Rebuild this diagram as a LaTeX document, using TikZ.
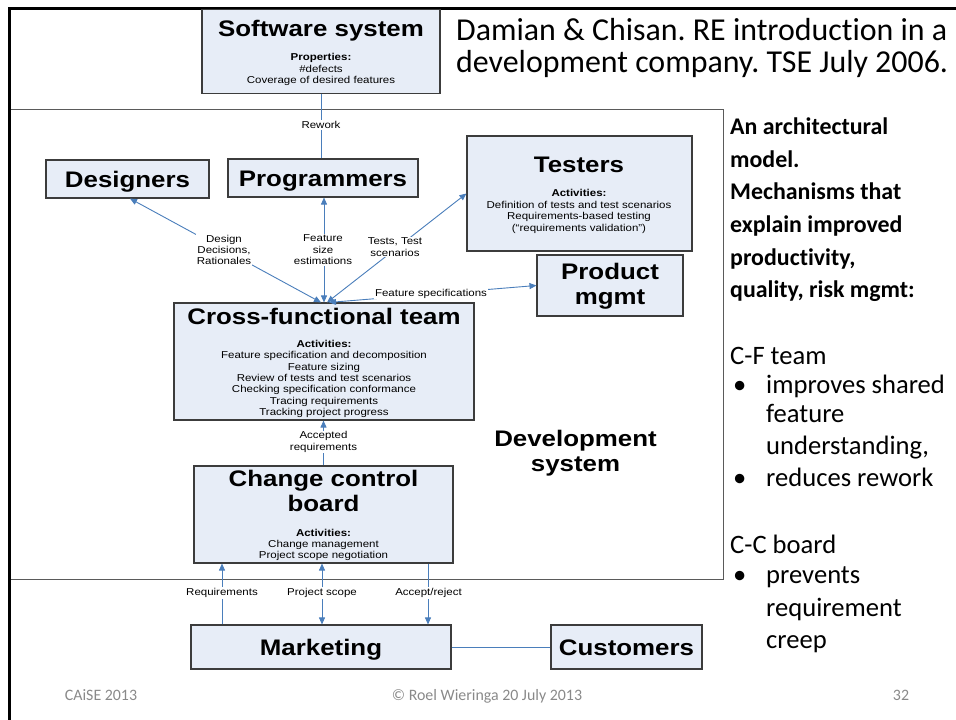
\documentclass[tikz,border=0pt]{standalone}
\usepackage{fontspec}
\setmainfont{Liberation Sans}
\newfontfamily\boxfont[FakeStretch=1.15]{Liberation Sans}
\newfontfamily\calfont[Ligatures=NoCommon]{Carlito}
\usetikzlibrary{arrows.meta,calc}
\definecolor{boxfill}{RGB}{231,237,247}
\definecolor{boxline}{RGB}{60,60,60}
\definecolor{linkblue}{RGB}{74,126,187}
\definecolor{footgray}{RGB}{137,137,137}
\definecolor{devline}{RGB}{90,90,90}
\frenchspacing
\begin{document}
\frenchspacing
\begin{tikzpicture}[x=1pt,y=-1pt,
  box/.style={draw=boxline,fill=boxfill,line width=1.1pt,inner sep=0pt},
  ttl/.style={font=\boxfont\bfseries\fontsize{22.5}{25}\selectfont,inner sep=0pt,align=center},
  ttlone/.style={ttl,text height=16.1pt,text depth=0pt},
  sml/.style={font=\boxfont\fontsize{10}{11.4}\selectfont,inner sep=0pt,align=center},
  lbl/.style={font=\boxfont\fontsize{10}{11.4}\selectfont,inner sep=1pt,align=center,fill=white},
  link/.style={draw=linkblue,line width=0.9pt},
  hd/.style={-{Triangle[length=7pt,width=6pt]}},
  hdd/.style={{Triangle[length=7pt,width=6pt]}-{Triangle[length=7pt,width=6pt]}},
  side/.style={font=\calfont\fontsize{23.9}{29}\selectfont\bfseries,anchor=west,inner sep=0pt,text height=15.3pt,text depth=0pt},
  sider/.style={font=\calfont\fontsize{26.6}{32}\selectfont,anchor=west,inner sep=0pt,text height=17pt,text depth=0pt},
  reftxt/.style={font=\calfont\fontsize{31.9}{38}\selectfont,anchor=west,inner sep=0pt,text height=20.4pt,text depth=0pt},
  foot/.style={font=\calfont\fontsize{15.9}{19}\selectfont,text=footgray,inner sep=0pt,text height=10.2pt,text depth=0pt}
]
\useasboundingbox (0,0) rectangle (956,720);

% development system frame and slide border
\draw[devline,line width=1pt] (9,109) -- (723,109) -- (723,579) -- (9,579);
\draw[black,line width=3pt] (9,720) -- (9,8) -- (956,8);

% boxes
\node[box,minimum width=238pt,minimum height=84pt] (sw) at (321,51.5) {};
\node[box,minimum width=163pt,minimum height=38pt] (des) at (127.5,179) {};
\node[box,minimum width=190pt,minimum height=38pt] (prog) at (323,178) {};
\node[box,minimum width=225pt,minimum height=115pt] (test) at (579.5,193.5) {};
\node[box,minimum width=146pt,minimum height=61pt] (pm) at (610,285.5) {};
\node[box,minimum width=300pt,minimum height=117pt] (cf) at (324,361.5) {};
\node[box,minimum width=259pt,minimum height=97pt] (ccb) at (323.5,514.5) {};
\node[box,minimum width=260pt,minimum height=44pt] (mkt) at (321,647) {};
\node[box,minimum width=151pt,minimum height=44pt] (cust) at (626.5,647) {};

% titles
\node[ttlone] (swT) at (321,28) {Software system};
\node[ttlone] (desT) at (127.5,179) {Designers};
\node[ttlone] (progT) at (323,178) {Programmers};
\node[ttlone] (testT) at (579,164) {Testers};
\node[ttl] (pmT) at (610,286) {Product\\mgmt};
\node[ttlone] (cfT) at (324,316) {Cross-functional team};
\node[ttl] (ccbT) at (323.5,490.5) {Change control\\board};
\node[ttlone] (mktT) at (321,647) {Marketing};
\node[ttlone] (custT) at (626.5,647) {Customers};
\node[ttl] (devT) at (575.5,453) {Development\\system};

% box contents
\node[sml] (swP) at (321,69.5) {\textbf{Properties:}\\\#defects\\Coverage of desired features};
\node[sml] (testA) at (579,211.5) {\textbf{Activities:}\\Definition of tests and test scenarios\\Requirements-based testing\\(“requirements validation”)};
\node[sml] (cfA) at (324,379) {\textbf{Activities:}\\Feature specification and decomposition\\Feature sizing\\Review of tests and test scenarios\\Checking specification conformance\\Tracing requirements\\Tracking project progress};
\node[sml] (ccbA) at (323.5,545) {\textbf{Activities:}\\Change management\\Project scope negotiation};

% connectors
\draw[link] (sw.south) -- (sw.south |- prog.north);
\draw[link,hdd] ([xshift=-3pt]cf.north) -- ([xshift=2.5pt]des.south);
\draw[link,hdd] (cf.north) -- (cf.north |- prog.south);
\draw[link,hdd] ([xshift=3pt]cf.north) -- (test.west);
\draw[link,hdd] ([xshift=5pt]cf.north) -- (pm.west);
\draw[link,hd] (ccb.north) -- (ccb.north |- cf.south);
\draw[link,hd] ($(mkt.north)+(-99,0)$) -- ($(ccb.south)+(-101.5,0)$);
\draw[link,hdd] ($(mkt.north)+(1,0)$) -- ($(ccb.south)+(-1.5,0)$);
\draw[link,hd] ($(ccb.south)+(104.5,0)$) -- ($(mkt.north)+(107,0)$);
\draw[link] (mkt.east) -- (cust.west);

% connector labels
\node[lbl] (lRework) at (321,125) {Rework};
\node[lbl] (lDesign) at (224,250) {Design\\Decisions,\\Rationales};
\node[lbl] (lSize) at (323,250) {Feature\\size\\estimations};
\node[lbl] (lTests) at (395,247) {Tests, Test\\scenarios};
\node[lbl] (lSpec) at (431,293.5) {Feature specifications};
\node[lbl] (lAcc) at (323.5,442) {Accepted\\requirements};
\node[lbl] (lReq) at (222,593) {Requirements};
\node[lbl] (lScope) at (322,593) {Project scope};
\node[lbl] (lAR) at (428.5,593) {Accept/reject};

% reference text
\node[reftxt] (ref1) at (456,30) {Damian \& Chisan. RE introduction in a};
\node[reftxt] (ref2) at (456,62) {development company. TSE July 2006.};

% right column
\node[side] (b1) at (730,127) {An architectural};
\node[side] (b2) at (730,159.6) {model.};
\node[side] (b3) at (730,192.2) {Mechanisms that};
\node[side] (b4) at (730,224.8) {explain improved};
\node[side] (b5) at (730,257.4) {productivity,};
\node[side] (b6) at (730,290) {quality, risk mgmt:};

\node[sider] (c1) at (730,356) {C-F team};
\node[sider] (u1) at (733,385) {•};
\node[sider] (c2) at (766,385) {improves shared};
\node[sider] (c3) at (766,414) {feature};
\node[sider] (c4) at (766,446) {understanding,};
\node[sider] (u2) at (733,478) {•};
\node[sider] (c5) at (766,478) {reduces rework};
\node[sider] (c6) at (730,545) {C-C board};
\node[sider] (u3) at (733,575) {•};
\node[sider] (c7) at (766,575) {prevents};
\node[sider] (c8) at (766,607.5) {requirement};
\node[sider] (c9) at (766,640) {creep};

% footer
\node[foot] (f1) at (101,695) {CAiSE 2013};
\node[foot] (f2) at (487,695) {© Roel Wieringa 20 July 2013};
\node[foot] (f3) at (901,695) {32};
\end{tikzpicture}
\end{document}
